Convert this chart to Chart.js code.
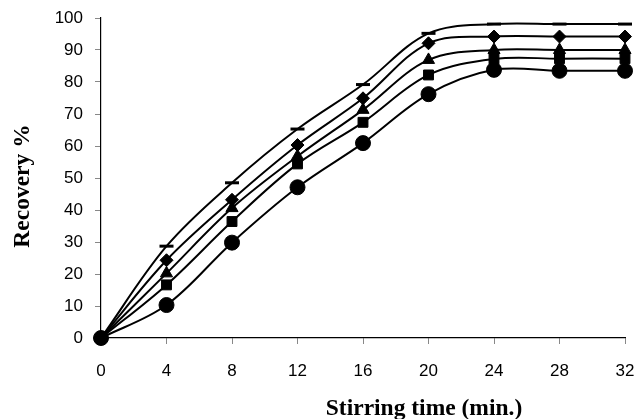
<!DOCTYPE html>
<html>
<head>
<meta charset="utf-8">
<script src="https://cdn.jsdelivr.net/npm/chart.js@4.4.1/dist/chart.umd.min.js"></script>
<style>
  html, body { margin: 0; padding: 0; background: #fff; overflow: hidden; }
  #wrap { width: 636px; height: 419px; position: relative; }
</style>
</head>
<body>
<div id="wrap"><canvas id="recoveryChart"></canvas></div>
<script>
// Data
const times = [0, 4, 8, 12, 16, 20, 24, 28, 32];
const xTicks = [0, 4, 8, 12, 16, 20, 24, 28, 32];
const yTicks = [0, 10, 20, 30, 40, 50, 60, 70, 80, 90, 100];

const dashSeries     = [0, 28.7, 48.5, 65.3, 79.2, 95.2, 98.1, 98.1, 98.1];
const diamondSeries  = [0, 24.3, 43.2, 60.3, 74.9, 92.1, 94.2, 94.2, 94.2];
const triangleSeries = [0, 20.2, 40.6, 56.8, 71.3, 86.9, 90.0, 90.0, 90.0];
const squareSeries   = [0, 16.6, 36.4, 54.4, 67.4, 82.2, 87.2, 87.3, 87.3];
const circleSeries   = [0, 10.3, 29.8, 47.1, 60.9, 76.2, 83.8, 83.5, 83.5];

const xTitle = 'Stirring time (min.)';
const yTitle = 'Recovery %';

// turn a value list into {x, y} points
function toPoints(values) {
    return values.map((v, i) => ({ x: times[i], y: v }));
}

function makeSeries(label, values, style, radius, pointBorder) {
    return {
        label: label,
        data: toPoints(values),
        borderColor: '#000',
        backgroundColor: '#000',
        borderWidth: 2,
        tension: 0.35,
        pointStyle: style,
        pointRadius: radius,
        pointHoverRadius: radius,
        pointBorderWidth: pointBorder,
        pointBackgroundColor: '#000',
        pointBorderColor: '#000',
        showLine: true,
        clip: false
    };
}

// axis titles drawn by hand so they can sit where the original puts them
const axisTitles = {
    id: 'axisTitles',
    afterDraw(chart) {
        const ctx = chart.ctx;
        ctx.save();
        ctx.fillStyle = '#000';
        ctx.font = 'bold 23.5px "Liberation Serif", "Times New Roman", serif';
        ctx.textAlign = 'center';
        ctx.textBaseline = 'alphabetic';
        ctx.fillText(xTitle, 424, 415);
        ctx.translate(29, 186);
        ctx.rotate(-Math.PI / 2);
        ctx.fillText(yTitle, 0, 0);
        ctx.restore();
    }
};

const tickFont = { family: '"Liberation Sans", Arial, sans-serif', size: 17 };

new Chart(document.getElementById('recoveryChart'), {
    type: 'scatter',
    data: {
        datasets: [
            makeSeries('Series 1', dashSeries, 'line', 7, 3),
            makeSeries('Series 2', diamondSeries, 'rectRot', 6.5, 1),
            makeSeries('Series 3', triangleSeries, 'triangle', 7, 1),
            makeSeries('Series 4', squareSeries, 'rect', 7, 1),
            makeSeries('Series 5', circleSeries, 'circle', 7.5, 1)
        ]
    },
    options: {
        responsive: true,
        maintainAspectRatio: false,
        animation: false,
        layout: { padding: { left: 0, top: 18, right: 11, bottom: 0 } },
        plugins: {
            legend: { display: false },
            tooltip: { enabled: false }
        },
        scales: {
            x: {
                type: 'linear',
                min: 0,
                max: 32,
                afterBuildTicks: axis => { axis.ticks = xTicks.map(v => ({ value: v })); },
                afterFit: axis => {
                    axis.height = 81;
                    axis.paddingLeft = 0;
                    axis.paddingRight = 0;
                },
                ticks: { color: '#000', font: tickFont, padding: 17, maxRotation: 0 },
                grid: { drawOnChartArea: false, drawTicks: true, tickLength: 6, color: '#888' },
                border: { color: '#000', width: 1.2 }
            },
            y: {
                min: 0,
                max: 100,
                afterBuildTicks: axis => { axis.ticks = yTicks.map(v => ({ value: v })); },
                afterFit: axis => {
                    axis.width = 101;
                    axis.paddingTop = 0;
                    axis.paddingBottom = 0;
                },
                ticks: { color: '#000', font: tickFont, padding: 12 },
                grid: { drawOnChartArea: false, drawTicks: true, tickLength: 6, color: '#888' },
                border: { color: '#000', width: 1.2 }
            }
        }
    },
    plugins: [axisTitles]
});
</script>
</body>
</html>
